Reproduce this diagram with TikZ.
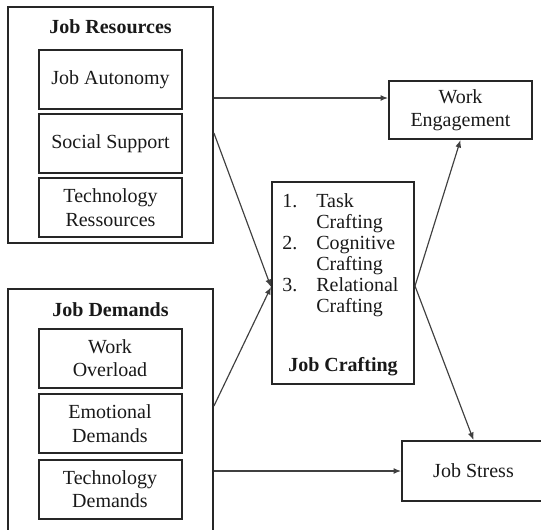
\documentclass[tikz,border=0pt]{standalone}
\usepackage{fontspec}
\setmainfont{Liberation Serif}
\usetikzlibrary{arrows.meta, positioning, calc}

\tikzset{
  groupbox/.style={draw=black!85, line width=1.1pt, minimum width=123pt},
  factor/.style={draw=black!85, line width=1.2pt, minimum width=85.8pt, minimum height=35.4pt, align=center, inner sep=2pt},
  outcome/.style={draw=black!85, line width=1.2pt, minimum width=85.8pt, minimum height=35.4pt, align=center},
  grouptitle/.style={font=\fontsize{12}{14}\selectfont\bfseries},
  link/.style={->, draw=black!75, line width=0.7pt}
}

\begin{document}
\begin{tikzpicture}[x=0.6pt, y=-0.6pt, font=\fontsize{12}{14}\selectfont, text=black!90, >={Latex[length=4.5pt,width=3.6pt]}]
    \useasboundingbox (0,0) rectangle (541,529);

    % left column: resources
    \node [groupbox, minimum height=141.6pt] (res) at (110.5,125) {};
    \node [grouptitle] (restitle) at (110.5,27) {Job Resources};
    \node [factor] (autonomy) at (110.5,79.5) {Job Autonomy};
    \node [factor, below=1.8pt of autonomy] (support) {Social Support};
    \node [factor, below=1.8pt of support] (techres) {Technology\\Ressources};

    % left column: demands
    \node [groupbox, minimum height=148.2pt] (dem) at (110.5,412.5) {};
    \node [grouptitle] (demtitle) at (110.5,310) {Job Demands};
    \node [factor] (overload) at (110,358) {Work\\Overload};
    \node [factor, below=2.7pt of overload] (emotional) {Emotional\\Demands};
    \node [factor, below=2.7pt of emotional] (techdem) {Technology\\Demands};

    % mediator
    \node [draw=black!85, line width=1.2pt, minimum width=85.2pt, minimum height=121.2pt] (craft) at (343,283) {};
    \node [anchor=north west, inner sep=0pt, font=\fontsize{12}{12.6}\selectfont] (craftlist) at ($(craft.north west)+(6.6pt,-6.8pt)$) {%
      \begin{tabular}{@{}p{20.4pt}@{}l@{}}
        1. & Task \\
           & Crafting \\
        2. & Cognitive \\
           & Crafting \\
        3. & Relational \\
           & Crafting
      \end{tabular}};
    \node [grouptitle] (crafttitle) at (343,367) {Job Crafting};

    % outcomes
    \node [outcome, minimum height=34.8pt] (engage) at (460.5,110) {Work\\Engagement};
    \node [outcome, minimum height=36pt] (stress) at (473.5,471) {Job Stress};

    \coordinate (cin) at ($(craft.west)+(0,-2.4pt)$);
    \coordinate (cout) at ($(craft.east)+(0,-1.8pt)$);

    \draw [link] ($(res.east |- engage.west)+(0,7.2pt)$) -- ($(engage.west)+(0,7.2pt)$);
    \draw [link] ($(res.east)+(0,-4.8pt)$) -- (cin);
    \draw [link] ($(dem.east)+(0,3.9pt)$) -- (cin);
    \draw [link] (dem.east |- stress.west) -- (stress.west);
    \draw [link] (cout) -- (engage.south);
    \draw [link] (cout) -- (stress.north);
\end{tikzpicture}
\end{document}
